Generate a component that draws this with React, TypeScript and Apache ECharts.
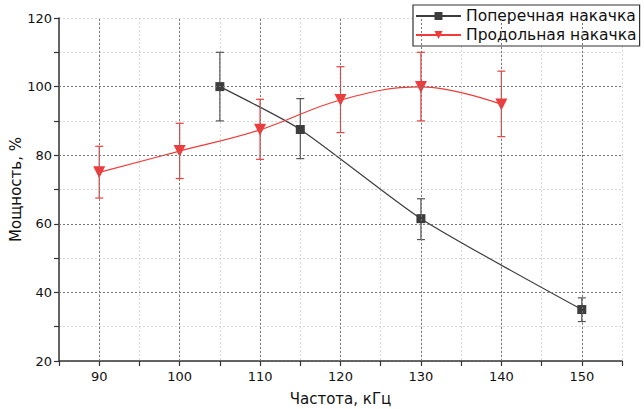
import React, { useEffect, useRef } from "react";
import * as echarts from "echarts";

const seriesNames = ["Поперечная накачка", "Продольная накачка"];
const freqA = [105, 115, 130, 150];
const powerA = [100, 87.5, 61.5, 35];
const lowA = [90, 79, 55.4, 31.5];
const highA = [110, 96.5, 67.3, 38.4];

const freqB = [90, 100, 110, 120, 130, 140];
const powerB = [75, 81.2, 87.4, 96.1, 99.9, 94.8];
const lowB = [67.5, 73.2, 78.8, 86.6, 90, 85.4];
const highB = [82.6, 89.3, 96.3, 105.8, 110, 104.5];

const xMajor = [90, 100, 110, 120, 130, 140, 150];
const yMajor = [40, 60, 80, 100];

const FONT = "'DejaVu Sans', sans-serif";
const GRAY = "#3d3d3d";
const RED = "#f23a3a";

function errorSeries(xs: number[], lo: number[], hi: number[], color: string) {
  return {
    type: "custom",
    z: 3,
    silent: true,
    data: xs.map((x, i) => [x, lo[i], hi[i]]),
    encode: { x: 0, y: [1, 2] },
    renderItem: (params: any, api: any) => {
      const x = api.value(0);
      const p1 = api.coord([x, api.value(1)]);
      const p2 = api.coord([x, api.value(2)]);
      const w = 4;
      const style = { stroke: color, lineWidth: 1.2 };
      return {
        type: "group",
        children: [
          { type: "line", shape: { x1: p1[0], y1: p1[1], x2: p2[0], y2: p2[1] }, style },
          { type: "line", shape: { x1: p1[0] - w, y1: p1[1], x2: p1[0] + w, y2: p1[1] }, style },
          { type: "line", shape: { x1: p2[0] - w, y1: p2[1], x2: p2[0] + w, y2: p2[1] }, style },
        ],
      };
    },
  };
}

export default function App() {
  const ref = useRef<HTMLDivElement>(null);
  useEffect(() => {
    if (!ref.current) return;
    const chart = echarts.init(ref.current, null, { renderer: "svg" });
    chart.setOption({
      animation: false,
      backgroundColor: "#ffffff",
      textStyle: { fontFamily: FONT },
      grid: { left: 59, right: 22, top: 18, bottom: 48, containLabel: false, outerBoundsMode: "none" },
      legend: {
        data: seriesNames,
        orient: "vertical",
        left: 413,
        top: 5,
        padding: [3, 3, 3, 2],
        itemGap: 3,
        itemWidth: 45,
        itemHeight: 10,
        borderColor: "#333",
        borderWidth: 1.2,
        borderRadius: 0,
        backgroundColor: "#fff",
        textStyle: { fontFamily: FONT, fontSize: 15.5, color: "#111", padding: [0, 0, 0, 0] },
      },
      xAxis: {
        type: "value",
        min: 85,
        max: 155,
        interval: 5,
        name: "Частота, кГц",
        nameLocation: "middle",
        nameGap: 30,
        nameMoveOverlap: false,
        nameTextStyle: { fontFamily: FONT, fontSize: 15, color: "#111" },
        axisLine: { onZero: false, lineStyle: { color: "#333", width: 1.5 } },
        axisTick: { inside: false, length: 5, lineStyle: { color: "#333", width: 1.2 } },
        axisLabel: {
          fontFamily: FONT,
          fontSize: 13,
          color: "#111",
          margin: 9,
          formatter: (v: number) => (v % 10 === 0 ? String(v) : ""),
        },
        splitLine: { show: true, lineStyle: { color: "#d8d8d8", type: [2, 2], width: 1 } },
      },
      yAxis: {
        type: "value",
        min: 20,
        max: 120,
        interval: 10,
        name: "Мощность, %",
        nameLocation: "middle",
        nameGap: 36,
        nameMoveOverlap: false,
        nameTextStyle: { fontFamily: FONT, fontSize: 15, color: "#111" },
        axisLine: { show: true, lineStyle: { color: "#333", width: 1.5 } },
        axisTick: { show: true, inside: false, length: 5, lineStyle: { color: "#333", width: 1.2 } },
        axisLabel: {
          fontFamily: FONT,
          fontSize: 13,
          color: "#111",
          margin: 7,
          formatter: (v: number) => (v % 20 === 0 ? String(v) : ""),
        },
        splitLine: {
          show: true,
          lineStyle: { color: "#d8d8d8", type: [2, 2], width: 1 },
        },
      },
      series: [
        {
          type: "line",
          z: 1,
          silent: true,
          data: [],
          markLine: {
            silent: true,
            symbol: "none",
            label: { show: false },
            lineStyle: { color: "#777", type: [2, 2], width: 1 },
            data: [
              ...xMajor.map((v) => ({ xAxis: v })),
              ...yMajor.map((v) => ({ yAxis: v })),
            ],
          },
        },
        {
          name: seriesNames[0],
          type: "line",
          z: 4,
          data: freqA.map((x, i) => [x, powerA[i]]),
          smooth: 0.2,
          symbol: "rect",
          symbolSize: 9,
          itemStyle: { color: GRAY },
          lineStyle: { color: GRAY, width: 1.2 },
        },
        {
          name: seriesNames[1],
          type: "line",
          z: 4,
          data: freqB.map((x, i) => [x, powerB[i]]),
          smooth: 0.4,
          symbol: "triangle",
          symbolRotate: 180,
          symbolSize: 12,
          itemStyle: { color: RED },
          lineStyle: { color: RED, width: 1.2 },
        },
        errorSeries(freqA, lowA, highA, "#555555"),
        errorSeries(freqB, lowB, highB, RED),
      ],
    });
    return () => chart.dispose();
  }, []);
  return <div ref={ref} style={{ width: 644, height: 409, position: "absolute", left: 0, top: 0 }} />;
}
